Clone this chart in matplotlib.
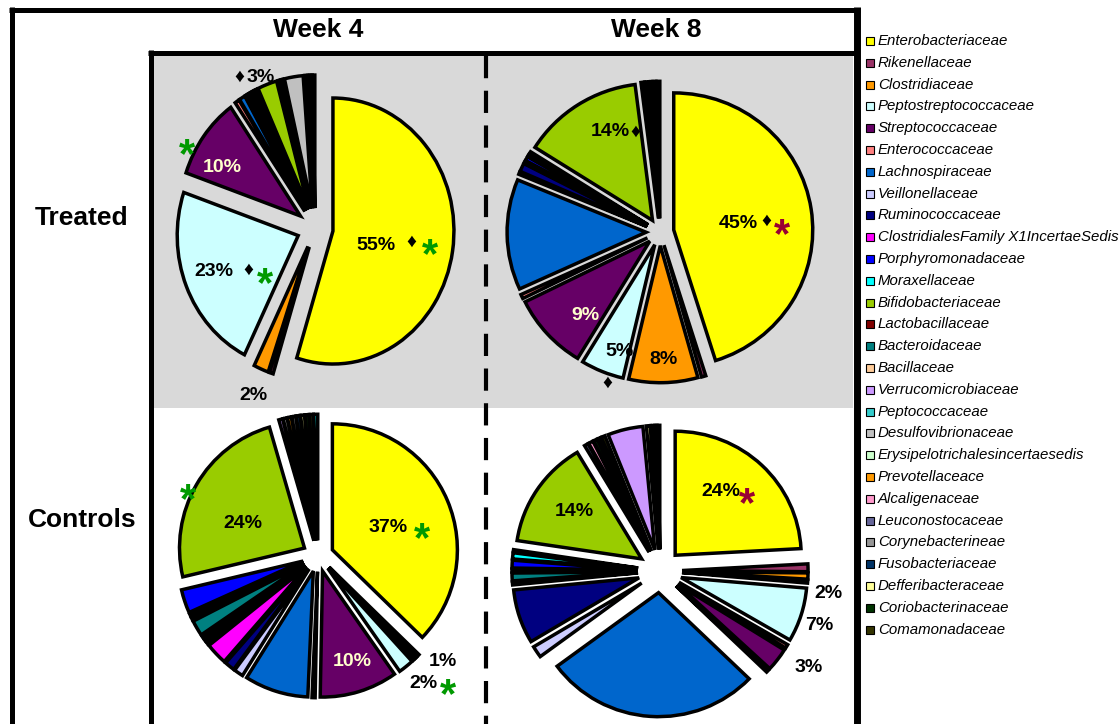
import matplotlib.pyplot as plt

plt.rcParams['font.family'] = ['Liberation Sans', 'DejaVu Sans']
plt.rcParams['lines.scale_dashes'] = False

# ! 1) data
families = ["Enterobacteriaceae", "Rikenellaceae", "Clostridiaceae", "Peptostreptococcaceae",
            "Streptococcaceae", "Enterococcaceae", "Lachnospiraceae", "Veillonellaceae",
            "Ruminococcaceae", "ClostridialesFamily X1IncertaeSedis", "Porphyromonadaceae",
            "Moraxellaceae", "Bifidobacteriaceae", "Lactobacillaceae", "Bacteroidaceae",
            "Bacillaceae", "Verrucomicrobiaceae", "Peptococcaceae", "Desulfovibrionaceae",
            "Erysipelotrichalesincertaesedis", "Prevotellaceace", "Alcaligenaceae",
            "Leuconostocaceae", "Corynebacterineae", "Fusobacteriaceae", "Defferibacteraceae",
            "Coriobacterinaceae", "Comamonadaceae"]
colors = ["#FFFF00", "#993366", "#FF9900", "#CCFFFF", "#660066", "#FF8080", "#0066CC",
          "#CCCCFF", "#000080", "#FF00FF", "#0000FF", "#00FFFF", "#99CC00", "#800000",
          "#008080", "#FFCC99", "#CC99FF", "#33CCCC", "#C0C0C0", "#CCFFCC", "#FF9900",
          "#FF99CC", "#666699", "#969696", "#003366", "#FFFF99", "#003300", "#333300"]
fam_color = dict(zip(families, colors))

# Treated, week 4 (clockwise from 12 o'clock)
tw4_names = ["Enterobacteriaceae", "Rikenellaceae", "Clostridiaceae", "Peptostreptococcaceae",
             "Streptococcaceae", "Enterococcaceae", "Lachnospiraceae", "Veillonellaceae",
             "Ruminococcaceae", "ClostridialesFamily X1IncertaeSedis", "Porphyromonadaceae",
             "Moraxellaceae", "Bifidobacteriaceae", "Lactobacillaceae", "Bacteroidaceae",
             "Desulfovibrionaceae", "Erysipelotrichalesincertaesedis", "Alcaligenaceae",
             "Leuconostocaceae", "Corynebacterineae"]
tw4_vals = [55, 0.5, 2, 23, 10, 0.6, 0.8, 0.3, 0.3, 0.3, 0.3, 0.3, 2.6, 0.3, 0.3, 2.5,
            0.3, 0.3, 0.3, 0.3]

# Treated, week 8
tw8_names = ["Enterobacteriaceae", "Rikenellaceae", "Clostridiaceae", "Peptostreptococcaceae",
             "Streptococcaceae", "Enterococcaceae", "Lachnospiraceae", "Veillonellaceae",
             "Ruminococcaceae", "ClostridialesFamily X1IncertaeSedis", "Porphyromonadaceae",
             "Moraxellaceae", "Bacteroidaceae", "Bifidobacteriaceae", "Lactobacillaceae",
             "Desulfovibrionaceae", "Corynebacterineae", "Coriobacterinaceae", "Comamonadaceae"]
tw8_vals = [45, 0.5, 8, 5, 9, 0.5, 13, 0.3, 1.0, 0.3, 0.5, 0.3, 0.3, 14, 0.4, 0.4, 0.4,
            0.4, 0.4]

# Controls, week 4
cw4_names = ["Enterobacteriaceae", "Rikenellaceae", "Clostridiaceae", "Lactobacillaceae",
             "Peptostreptococcaceae", "Streptococcaceae", "Enterococcaceae", "Lachnospiraceae",
             "Veillonellaceae", "Ruminococcaceae", "ClostridialesFamily X1IncertaeSedis",
             "Bacillaceae", "Peptococcaceae", "Erysipelotrichalesincertaesedis", "Bacteroidaceae",
             "Alcaligenaceae", "Leuconostocaceae", "Porphyromonadaceae", "Bifidobacteriaceae",
             "Verrucomicrobiaceae", "Desulfovibrionaceae", "Prevotellaceace", "Corynebacterineae",
             "Fusobacteriaceae", "Defferibacteraceae", "Coriobacterinaceae", "Comamonadaceae",
             "Moraxellaceae"]
cw4_vals = [37, 0.35, 0.35, 0.3, 2, 10, 0.4, 8.2, 1.2, 1.3, 2.8, 0.4, 0.4, 0.4, 2.0, 0.4,
            0.4, 3.0, 24, 0.5, 0.5, 0.5, 0.5, 0.5, 0.5, 0.5, 0.5, 0.5]

# Controls, week 8
cw8_names = ["Enterobacteriaceae", "Rikenellaceae", "Clostridiaceae", "Lactobacillaceae",
             "Peptostreptococcaceae", "Enterococcaceae", "Streptococcaceae", "Bacillaceae",
             "Lachnospiraceae", "Veillonellaceae", "Ruminococcaceae", "Desulfovibrionaceae",
             "Bacteroidaceae", "Corynebacterineae", "Porphyromonadaceae", "Moraxellaceae",
             "Fusobacteriaceae", "Bifidobacteriaceae", "Leuconostocaceae", "Alcaligenaceae",
             "Coriobacterinaceae", "ClostridialesFamily X1IncertaeSedis", "Comamonadaceae",
             "Verrucomicrobiaceae", "Defferibacteraceae", "Peptococcaceae", "Prevotellaceace",
             "Erysipelotrichalesincertaesedis"]
cw8_vals = [24, 1.0, 0.8, 0.4, 7, 0.5, 3, 0.3, 27.5, 1.5, 7, 0.4, 1.0, 0.4, 1.0, 0.8, 0.3,
            14, 0.5, 0.6, 0.5, 0.4, 0.5, 4.5, 0.5, 0.4, 0.3, 0.3]

col_titles = ["Week 4", "Week 8"]
row_titles = ["Treated", "Controls"]

GREEN = "#009900"
DRED = "#990033"
CREAM = "#FFFFCC"
# label pieces: (text, x, y, colour) in pixels of the figure
tw4_labels = [("55%", 376, 246, "k"), ("\u2666", 411, 242, "k"), ("*", 430, 243, GREEN),
              ("23%", 214, 271, "k"), ("\u2666", 248, 270, "k"), ("*", 265, 272, GREEN),
              ("10%", 222, 168, CREAM), ("*", 187, 143, GREEN),
              ("\u2666", 239, 77, "k"), ("3%", 261, 77, "k"),
              ("2%", 253, 396, "k")]
tw8_labels = [("45%", 738, 224, "k"), ("\u2666", 766, 221, "k"), ("*", 782, 223, DRED),
              ("14%", 610, 132, "k"), ("\u2666", 635, 132, "k"),
              ("9%", 585, 316, CREAM),
              ("5%", 620, 351, "k"), ("\u2666", 607, 383, "k"),
              ("8%", 663, 360, "k")]
cw4_labels = [("37%", 388, 527, "k"), ("*", 422, 527, GREEN),
              ("24%", 243, 523, "k"), ("*", 188, 488, GREEN),
              ("10%", 352, 661, CREAM),
              ("1%", 443, 661, "k"),
              ("2%", 423, 683, "k"), ("*", 448, 683, GREEN)]
cw8_labels = [("24%", 721, 492, "k"), ("*", 747, 492, DRED),
              ("14%", 574, 512, "k"),
              ("2%", 828, 593, "k"),
              ("7%", 819, 625, "k"),
              ("3%", 809, 668, "k")]

# ! 2) figure + frame
W, H = 1120, 724
fig = plt.figure(figsize=(W / 100, H / 100), dpi=100)
bg = fig.add_axes([0, 0, 1, 1])
bg.set_xlim(0, W)
bg.set_ylim(H, 0)
bg.axis('off')

bg.add_patch(plt.Rectangle((153, 55), 700, 353, color="#D9D9D9", lw=0))
lw_frame = 3.6
bg.hlines(9.5, 9, 860, color="k", lw=lw_frame)
bg.vlines(11.5, 7, H, color="k", lw=lw_frame)
bg.hlines(52.5, 148, 856, color="k", lw=lw_frame)
bg.vlines(150.5, 50, H, color="k", lw=lw_frame)
bg.vlines(856.5, 7, H, color="k", lw=5)
bg.plot([486, 486], [56, H], color="k", lw=3, linestyle=(0, (16, 9)),
        solid_capstyle="butt", dash_capstyle="butt")

for t, x in zip(col_titles, [318, 656]):
    bg.text(x, 30, t, ha="center", va="center", fontsize=19, fontweight="bold")
for t, y in zip(row_titles, [218, 520]):
    bg.text(82, y, t, ha="center", va="center", fontsize=19, fontweight="bold")

# legend
for i, (f, c) in enumerate(zip(families, colors)):
    y = 41 + i * 21.8
    bg.add_patch(plt.Rectangle((866, y - 4), 8, 8, facecolor=c, edgecolor="k", lw=0.8))
    bg.text(878, y, f, ha="left", va="center", fontsize=10.8, style="italic")


# ! 3) pies
def draw_pie(cx, cy, rx, ry, names, vals, explode):
    L = 1.3
    ax = fig.add_axes([(cx - L * rx) / W, 1 - (cy + L * ry) / H, 2 * L * rx / W, 2 * L * ry / H])
    ax.pie(vals, colors=[fam_color[n] for n in names], startangle=90, counterclock=False,
           explode=[explode] * len(vals),
           wedgeprops=dict(edgecolor="k", linewidth=2.5, joinstyle="miter"))
    ax.set_aspect("auto")
    ax.set_xlim(-L, L)
    ax.set_ylim(-L, L)
    ax.axis("off")
    ax.patch.set_alpha(0)


def draw_labels(labels):
    for t, x, y, c in labels:
        if t == "*":
            bg.text(x, y + 24, t, ha="center", va="baseline", fontsize=30,
                    fontweight="bold", color=c, zorder=5)
        elif t == "\u2666":
            bg.text(x, y, t, ha="center", va="center", fontsize=14, color=c, zorder=5)
        else:
            bg.text(x, y, t, ha="center", va="center", fontsize=14,
                    fontweight="bold", color=c, zorder=5)


draw_pie(315, 228, 121, 133, tw4_names, tw4_vals, 0.15)
draw_pie(660, 232, 139, 137, tw8_names, tw8_vals, 0.10)
draw_pie(318, 556, 125, 126, cw4_names, cw4_vals, 0.125)
draw_pie(660, 571, 126, 124, cw8_names, cw8_vals, 0.175)

# labels on top of the pies
top = fig.add_axes([0, 0, 1, 1])
top.set_xlim(0, W)
top.set_ylim(H, 0)
top.axis("off")
top.patch.set_alpha(0)
bg = top
for lab in [tw4_labels, tw8_labels, cw4_labels, cw8_labels]:
    draw_labels(lab)

fig.savefig("out.png", dpi=100)
